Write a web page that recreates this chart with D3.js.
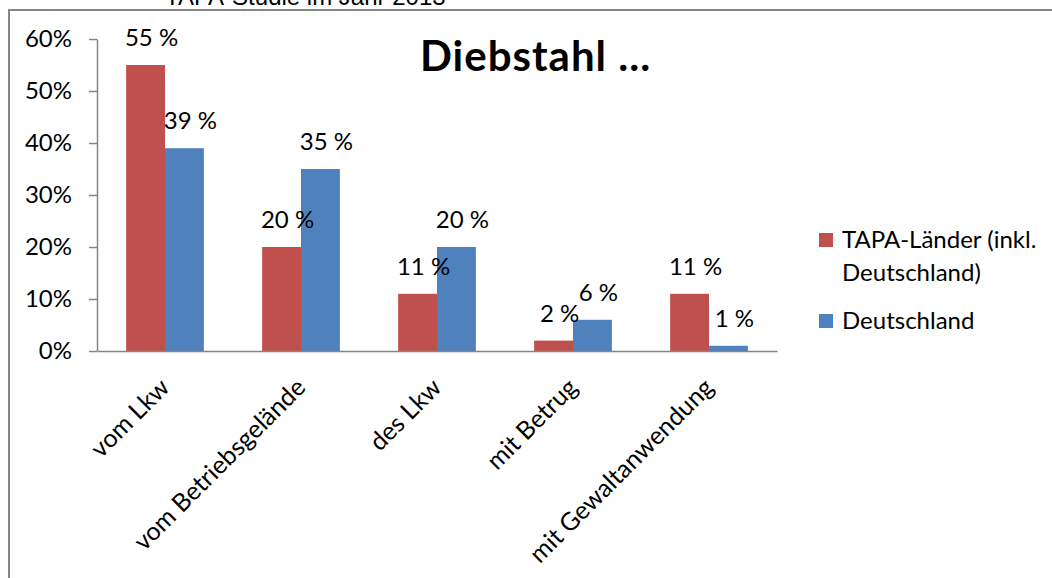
<!DOCTYPE html>
<html>
<head>
<meta charset="utf-8">
<script src="https://cdn.jsdelivr.net/npm/d3@7"></script>
<style>
  html, body { margin: 0; padding: 0; background: #fff; }
  svg { display: block; }
  text { font-family: Lato, "Open Sans", sans-serif; fill: #000; }
</style>
</head>
<body>
<svg id="chart" width="1052" height="578"></svg>
<script>
// Diebstahl – Anteile nach Art des Diebstahls
const categories = ["vom Lkw", "vom Betriebsgelände", "des Lkw", "mit Betrug", "mit Gewaltanwendung"];
const seriesNames = ["TAPA-Länder (inkl. Deutschland)", "Deutschland"];
const tapaValues = [55, 20, 11, 2, 11];
const deutschlandValues = [39, 35, 20, 6, 1];
const yTickValues = [0, 10, 20, 30, 40, 50, 60];
const legendLines = [["TAPA-Länder (inkl.", "Deutschland)"], ["Deutschland"]];
const chartTitle = "Diebstahl ...";
const headerText = "TAPA-Studie im Jahr 2013";

const colors = ["#C0504D", "#4F81BD"];
const axisColor = "#868686";

const svg = d3.select("#chart");
const W = 1052, H = 578;

// outer frame (only top and left edges fall inside the view)
svg.append("path")
  .attr("d", `M9,${H} L9,10 L${W},10`)
  .attr("fill", "none")
  .attr("stroke", axisColor)
  .attr("stroke-width", 2);

// header line, mostly above the visible area
svg.append("text")
  .attr("x", 165).attr("y", 5)
  .style("font-family", "'Liberation Sans', Arial, sans-serif")
  .style("font-size", "24px")
  .attr("fill", "#222")
  .text(headerText);

const plot = { left: 97, right: 777, top: 39, bottom: 351 };

const x = d3.scaleBand()
  .domain(categories)
  .range([plot.left, plot.right])
  .paddingInner(0).paddingOuter(0);

const xs = d3.scaleBand()
  .domain(seriesNames)
  .range([0, x.bandwidth()])
  .paddingInner(0).paddingOuter(0.75);

const y = d3.scaleLinear()
  .domain([0, 60])
  .range([plot.bottom, plot.top]);

const rows = categories.map((c, i) => ({
  cat: c,
  vals: [
    { s: seriesNames[0], v: tapaValues[i], col: colors[0] },
    { s: seriesNames[1], v: deutschlandValues[i], col: colors[1] }
  ]
}));

// bars
const groups = svg.append("g").selectAll("g")
  .data(rows).join("g")
  .attr("transform", d => `translate(${x(d.cat)},0)`);

groups.selectAll("rect")
  .data(d => d.vals).join("rect")
  .attr("x", d => xs(d.s))
  .attr("y", d => y(d.v))
  .attr("width", xs.bandwidth())
  .attr("height", d => y(0) - y(d.v))
  .attr("fill", d => d.col);

// value labels
groups.selectAll("text.val")
  .data(d => d.vals).join("text")
  .attr("class", "val")
  .attr("x", d => xs(d.s) + xs.bandwidth() / 2 + 6)
  .attr("y", d => y(d.v) - 19)
  .attr("text-anchor", "middle")
  .style("font-size", "24px")
  .text(d => `${d.v} %`);

// y axis
const yAxis = svg.append("g")
  .attr("transform", `translate(${plot.left},0)`)
  .call(d3.axisLeft(y).tickValues(yTickValues)
    .tickFormat(d => `${d}%`)
    .tickSize(8).tickSizeOuter(0).tickPadding(17));
yAxis.select(".domain").attr("stroke", axisColor).attr("stroke-width", 1.5);
yAxis.selectAll(".tick line").attr("stroke", axisColor).attr("stroke-width", 1.5);
yAxis.selectAll(".tick text")
  .style("font-size", "24px")
  .style("font-family", "Lato, sans-serif")
  .attr("fill", "#000");

// x axis
const xAxis = svg.append("g")
  .attr("transform", `translate(0,${plot.bottom})`)
  .call(d3.axisBottom(x).tickSize(0).tickSizeOuter(0));
xAxis.select(".domain").attr("stroke", axisColor).attr("stroke-width", 1.5);
xAxis.selectAll(".tick text")
  .attr("x", 0).attr("y", 0).attr("dy", null)
  .attr("text-anchor", "end")
  .attr("transform", "translate(6,38) rotate(-45)")
  .style("font-size", "25px")
  .style("font-family", "Lato, sans-serif")
  .attr("fill", "#000");

// title
svg.append("text")
  .attr("x", 420).attr("y", 71)
  .style("font-size", "42px")
  .style("font-weight", "bold")
  .style("letter-spacing", "1px")
  .text(chartTitle);

// legend
const legend = svg.append("g").attr("transform", "translate(819,0)");
const legendTops = [233, 314];
legendLines.forEach((lines, i) => {
  legend.append("rect")
    .attr("x", 0).attr("y", legendTops[i])
    .attr("width", 14).attr("height", 14)
    .attr("fill", colors[i]);
  const t = legend.append("text")
    .attr("x", 23).attr("y", legendTops[i] + 15)
    .style("font-size", "24px");
  lines.forEach((ln, j) => {
    t.append("tspan").attr("x", 23).attr("dy", j === 0 ? 0 : 33).text(ln);
  });
});
</script>
</body>
</html>
